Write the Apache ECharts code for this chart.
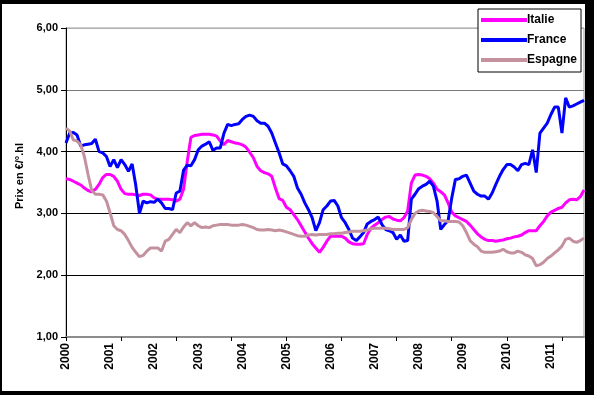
<!DOCTYPE html>
<html>
<head>
<meta charset="utf-8">
<script src="https://cdn.jsdelivr.net/npm/echarts@6/dist/echarts.min.js"></script>
<style>
html,body{margin:0;padding:0;background:#fff;}
#chart{width:599px;height:395px;}
</style>
</head>
<body>
<div id="chart"></div>
<script>
const years = ['2000','2001','2002','2003','2004','2005','2006','2007','2008','2009','2010','2011'];
const monthCount = 142;
const yTicks = [1,2,3,4,5,6];
const seriesNames = ['Italie','France','Espagne'];

const italie = [3.56,3.55,3.52,3.49,3.46,3.41,3.37,3.35,3.39,3.47,3.58,3.63,3.63,3.60,3.52,3.39,3.32,3.31,3.31,3.30,
3.29,3.31,3.31,3.30,3.25,3.23,3.23,3.23,3.23,3.22,3.20,3.23,3.39,3.84,4.23,4.26,4.27,4.28,4.28,4.28,
4.27,4.25,4.17,4.11,4.18,4.16,4.14,4.13,4.11,4.07,3.99,3.90,3.76,3.69,3.66,3.64,3.60,3.41,3.24,3.21,
3.10,3.06,2.98,2.90,2.80,2.70,2.60,2.51,2.44,2.37,2.45,2.55,2.63,2.63,2.63,2.63,2.60,2.54,2.51,2.50,
2.50,2.51,2.66,2.76,2.81,2.85,2.90,2.94,2.95,2.91,2.89,2.88,2.93,3.04,3.49,3.62,3.63,3.62,3.60,3.56,
3.49,3.39,3.35,3.30,3.17,3.02,2.96,2.93,2.90,2.87,2.81,2.74,2.67,2.62,2.58,2.56,2.56,2.55,2.56,2.57,
2.59,2.60,2.62,2.63,2.65,2.69,2.72,2.72,2.72,2.80,2.87,2.96,3.02,3.05,3.08,3.10,3.17,3.22,3.23,3.22,
3.27,3.38];

const france = [4.14,4.30,4.31,4.27,4.09,4.11,4.12,4.13,4.20,4.00,3.98,3.92,3.76,3.87,3.74,3.87,3.79,3.68,3.80,3.45,
3.00,3.20,3.17,3.19,3.18,3.23,3.17,3.08,3.08,3.06,3.33,3.36,3.70,3.78,3.77,3.87,4.03,4.09,4.12,4.16,
4.02,4.06,4.06,4.30,4.44,4.42,4.44,4.45,4.52,4.57,4.59,4.57,4.50,4.46,4.46,4.41,4.30,4.14,3.98,3.80,
3.77,3.69,3.60,3.41,3.31,3.17,3.06,2.93,2.72,2.85,3.06,3.12,3.20,3.21,3.12,2.93,2.85,2.74,2.60,2.56,
2.62,2.69,2.83,2.87,2.90,2.94,2.82,2.74,2.72,2.69,2.58,2.65,2.55,2.56,3.23,3.31,3.40,3.44,3.47,3.52,
3.44,3.20,2.74,2.82,2.88,3.25,3.55,3.56,3.60,3.62,3.49,3.36,3.31,3.28,3.28,3.23,3.33,3.47,3.60,3.71,
3.79,3.79,3.75,3.69,3.79,3.81,3.79,4.03,3.66,4.30,4.38,4.46,4.60,4.72,4.72,4.30,4.87,4.72,4.74,4.77,
4.80,4.83];

const espagne = [4.38,4.33,4.19,4.17,4.11,3.92,3.63,3.37,3.31,3.31,3.30,3.20,3.01,2.80,2.74,2.72,2.66,2.56,2.45,2.37,
2.30,2.32,2.39,2.44,2.44,2.44,2.39,2.55,2.58,2.66,2.74,2.69,2.78,2.85,2.80,2.85,2.80,2.77,2.78,2.77,
2.80,2.81,2.82,2.82,2.82,2.81,2.81,2.81,2.82,2.81,2.79,2.77,2.74,2.73,2.73,2.74,2.73,2.72,2.73,2.72,
2.70,2.68,2.66,2.64,2.63,2.63,2.65,2.66,2.65,2.66,2.66,2.66,2.67,2.67,2.68,2.68,2.69,2.70,2.71,2.71,
2.71,2.72,2.73,2.75,2.76,2.76,2.76,2.76,2.75,2.74,2.74,2.74,2.74,2.77,2.90,3.00,3.04,3.05,3.04,3.03,
3.01,2.95,2.88,2.88,2.87,2.87,2.87,2.86,2.80,2.69,2.56,2.50,2.46,2.39,2.37,2.37,2.37,2.38,2.39,2.42,
2.38,2.36,2.36,2.39,2.37,2.33,2.31,2.27,2.15,2.17,2.21,2.27,2.31,2.36,2.41,2.47,2.58,2.60,2.55,2.53,
2.56,2.60];

const categories = [];
for (let i = 0; i < monthCount; i++) {
  categories.push(years[Math.floor(i / 12)] + '-' + String(i % 12 + 1).padStart(2, '0'));
}

const FONT = '"Liberation Sans", Arial, sans-serif';
const chart = echarts.init(document.getElementById('chart'), null, {renderer: 'canvas'});
chart.setOption({
  animation: false,
  backgroundColor: 'transparent',
  graphic: [
    {type: 'rect', z: -100, shape: {x: 0, y: 0, width: 594, height: 395}, style: {fill: '#000'}},
    {type: 'rect', z: -99, shape: {x: 2, y: 4, width: 583, height: 387}, style: {fill: '#fff'}},
    {type: 'text', z: 10, x: 20, y: 176, rotation: Math.PI / 2,
      style: {text: 'Prix en €/°.hl', font: 'bold 11px ' + FONT, fill: '#000', align: 'center', verticalAlign: 'middle'}}
  ],
  grid: {left: 66, right: 15, top: 28, bottom: 58, show: true, borderColor: '#9a9a9a', borderWidth: 1, backgroundColor: 'transparent'},
  legend: {
    orient: 'vertical', left: 478, top: 9,
    data: seriesNames,
    icon: 'rect', itemWidth: 46, itemHeight: 4, itemGap: 6,
    padding: [4, 4, 5, 3],
    backgroundColor: '#fff', borderColor: '#000', borderWidth: 1,
    textStyle: {fontFamily: FONT, fontWeight: 'bold', fontSize: 12, color: '#000', padding: [0, 0, 0, -5], lineHeight: 14, height: 14}
  },
  xAxis: {
    type: 'category', data: categories, boundaryGap: false,
    axisLine: {lineStyle: {color: '#8c8c8c', width: 2}},
    axisTick: {show: true, interval: 14, length: 4, lineStyle: {color: '#000'}},
    axisLabel: {
      interval: 11, rotate: 90, margin: 6,
      fontFamily: FONT, fontWeight: 'bold', fontSize: 12, color: '#000',
      formatter: function (v) { return v.slice(0, 4); }
    },
    splitLine: {show: false}
  },
  yAxis: {
    type: 'value', min: yTicks[0], max: yTicks[yTicks.length - 1], interval: 1,
    axisLine: {show: true, lineStyle: {color: '#000', width: 1}},
    axisTick: {show: true, length: 5, lineStyle: {color: '#000'}},
    axisLabel: {margin: 8, fontFamily: FONT, fontWeight: 'bold', fontSize: 11, color: '#000',
      formatter: function (v) { return v.toFixed(2).replace('.', ','); }},
    splitLine: {show: true, lineStyle: {color: ['#8c8c8c', '#000', '#000', '#000', '#7a7a7a', '#b0b0b0'], width: 1}}
  },
  series: [
    {name: 'Italie', type: 'line', data: italie, showSymbol: false, symbol: 'none',
      lineStyle: {color: '#ff00ff', width: 3}, itemStyle: {color: '#ff00ff'}},
    {name: 'France', type: 'line', data: france, showSymbol: false, symbol: 'none',
      lineStyle: {color: '#0000ff', width: 3}, itemStyle: {color: '#0000ff'}},
    {name: 'Espagne', type: 'line', data: espagne, showSymbol: false, symbol: 'none',
      lineStyle: {color: '#c4929f', width: 3}, itemStyle: {color: '#c4929f'}}
  ]
});
</script>
</body>
</html>
